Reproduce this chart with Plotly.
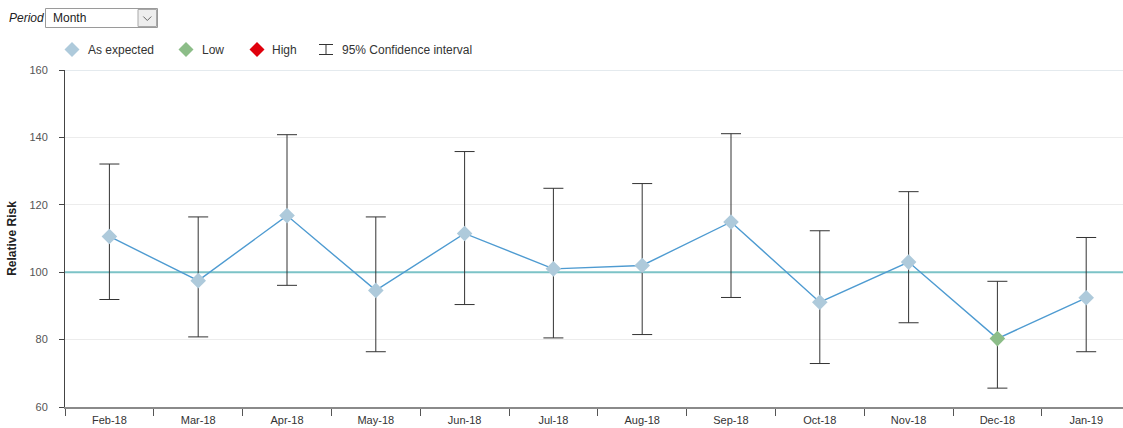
import plotly.graph_objects as go

# ---------------- data ----------------
months = ["Feb-18", "Mar-18", "Apr-18", "May-18", "Jun-18", "Jul-18",
          "Aug-18", "Sep-18", "Oct-18", "Nov-18", "Dec-18", "Jan-19"]
relative_risk = [110.6, 97.5, 116.8, 94.6, 111.5, 101.0, 102.0, 114.9, 91.1, 103.0, 80.3, 92.4]
ci_upper = [132.1, 116.4, 140.8, 116.4, 135.8, 124.9, 126.3, 141.1, 112.3, 123.9, 97.3, 110.3]
ci_lower = [91.9, 80.8, 96.1, 76.4, 90.4, 80.5, 81.5, 92.5, 72.9, 85.0, 65.6, 76.4]
status = ["As expected", "As expected", "As expected", "As expected", "As expected", "As expected",
          "As expected", "As expected", "As expected", "As expected", "Low", "As expected"]
baseline = 100
y_ticks = [60, 80, 100, 120, 140, 160]
legend_labels = ["As expected", "Low", "High"]
ci_label = "95% Confidence interval"
period_label = "Period"
period_value = "Month"

status_colors = {"As expected": "#aecadb", "Low": "#8cbd88", "High": "#e0000c"}

# ---------------- layout geometry ----------------
W, H = 1123, 428
ML, MR, MT, MB = 65, 0, 70, 21
PW, PH = W - ML - MR, H - MT - MB
CAT_PX = 88.8  # pixel width of one category
X_RANGE = [-0.5, -0.5 + PW / CAT_PX]


def px(x):
    return (x - ML) / PW


def py(y):
    return (H - MB - y) / PH


FONT = "Arial, 'Liberation Sans', sans-serif"

fig = go.Figure()

fig.add_trace(go.Scatter(
    x=months,
    y=relative_risk,
    mode="lines+markers",
    line=dict(color="#4e9bd1", width=1.4),
    marker=dict(symbol="diamond", size=12,
                color=[status_colors[s] for s in status],
                line=dict(width=0)),
    error_y=dict(type="data", symmetric=False,
                 array=[u - v for u, v in zip(ci_upper, relative_risk)],
                 arrayminus=[v - l for v, l in zip(relative_risk, ci_lower)],
                 color="#333333", thickness=1, width=10),
    showlegend=False,
    hoverinfo="x+y",
))

shapes = []
# reference line at baseline (axis-referenced so it sits above grid, below data)
shapes.append(dict(type="line", xref="x", x0=X_RANGE[0], x1=X_RANGE[1] + 1, yref="y",
                   y0=baseline, y1=baseline,
                   line=dict(color="#7cc3c7", width=2), layer="between"))
# top line at 160
shapes.append(dict(type="line", xref="x", x0=X_RANGE[0], x1=X_RANGE[1] + 1, yref="y",
                   y0=y_ticks[-1], y1=y_ticks[-1],
                   line=dict(color="#c9d5de", width=1), layer="between"))

annotations = []

# ---------------- legend (manual) ----------------
leg_y = 49.5
leg_marker_x = [72, 186, 257]
leg_text_x = [86, 200, 270]
for lab, mx, tx in zip(legend_labels, leg_marker_x, leg_text_x):
    shapes.append(dict(type="path", xref="paper", yref="paper",
                       xsizemode="pixel", ysizemode="pixel",
                       xanchor=px(mx), yanchor=py(leg_y),
                       path="M -7.5 0 L 0 7.5 L 7.5 0 L 0 -7.5 Z",
                       fillcolor=status_colors[lab], line=dict(width=0)))
    annotations.append(dict(x=px(tx), y=py(leg_y), xref="paper", yref="paper",
                            text=lab, showarrow=False, xanchor="left", yanchor="middle",
                            font=dict(family=FONT, size=12, color="#333333")))
# CI icon
ci_cx = 326
shapes.append(dict(type="path", xref="paper", yref="paper",
                   xsizemode="pixel", ysizemode="pixel",
                   xanchor=px(ci_cx), yanchor=py(leg_y),
                   path="M -7 5 L 7 5 M 0 5 L 0 -5 M -7 -5 L 7 -5",
                   line=dict(color="#333333", width=1)))
annotations.append(dict(x=px(340), y=py(leg_y), xref="paper", yref="paper",
                        text=ci_label, showarrow=False, xanchor="left", yanchor="middle",
                        font=dict(family=FONT, size=12, color="#333333")))

# ---------------- Period selector (static look) ----------------
annotations.append(dict(x=px(7), y=py(18), xref="paper", yref="paper",
                        text="<i>" + period_label + "</i>", showarrow=False,
                        xanchor="left", yanchor="middle",
                        font=dict(family=FONT, size=12, color="#222222")))
shapes.append(dict(type="rect", xref="paper", yref="paper",
                   x0=px(45.5), x1=px(157.5), y0=py(8.5), y1=py(27.5),
                   fillcolor="white", line=dict(color="#9a9a9a", width=1)))
shapes.append(dict(type="rect", xref="paper", yref="paper",
                   x0=px(138), x1=px(156.5), y0=py(9.5), y1=py(26.5),
                   fillcolor="#eeeeee", line=dict(color="#a8a8a8", width=1)))
shapes.append(dict(type="path", xref="paper", yref="paper",
                   xsizemode="pixel", ysizemode="pixel",
                   xanchor=px(147.3), yanchor=py(18.5),
                   path="M -4 2 L 0 -2 L 4 2",
                   line=dict(color="#666666", width=1)))
annotations.append(dict(x=px(51), y=py(18), xref="paper", yref="paper",
                        text=period_value, showarrow=False, xanchor="left", yanchor="middle",
                        font=dict(family=FONT, size=12, color="#222222")))

fig.update_layout(
    width=W, height=H,
    margin=dict(l=ML, r=MR, t=MT, b=MB, pad=0),
    paper_bgcolor="white", plot_bgcolor="white",
    font=dict(family=FONT, size=11, color="#444444"),
    shapes=shapes,
    annotations=annotations,
    showlegend=False,
    xaxis=dict(
        type="category",
        range=X_RANGE,
        tickson="boundaries",
        ticks="outside", ticklen=7, tickwidth=1, tickcolor="#555555",
        showline=True, linecolor="#8a8a8a", linewidth=2,
        showgrid=False, zeroline=False,
        tickfont=dict(family=FONT, size=11, color="#333333"),
        ticklabelstandoff=2,
    ),
    yaxis=dict(
        range=[y_ticks[0], y_ticks[-1]],
        tickvals=y_ticks,
        ticks="outside", ticklen=5, tickwidth=1, tickcolor="#444444",
        showline=True, linecolor="#444444", linewidth=1,
        showgrid=True, gridcolor="#ececec", gridwidth=1,
        zeroline=False,
        tickfont=dict(family=FONT, size=11, color="#555555"),
        ticklabelstandoff=9,
        title=dict(text="Relative Risk", standoff=10,
                   font=dict(family=FONT, size=12, color="#222222", weight="bold")),
    ),
)

fig.write_html("out.html")
